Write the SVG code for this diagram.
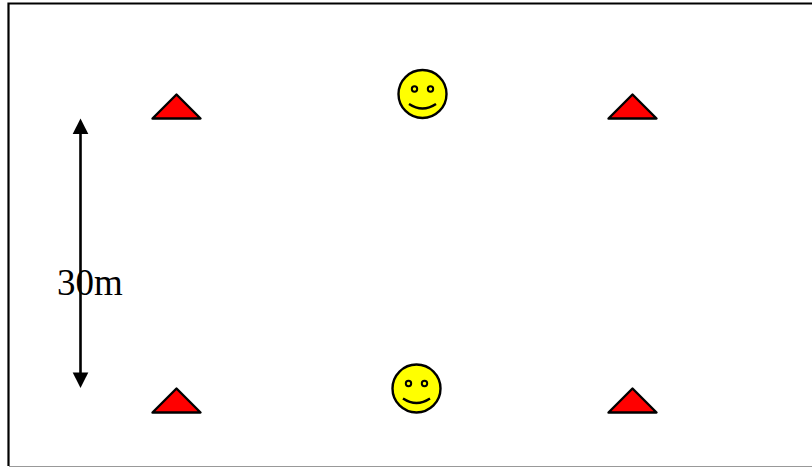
<svg xmlns="http://www.w3.org/2000/svg" width="812" height="467" viewBox="0 0 812 467">
<style>
.cone{fill:#ff0000;stroke:#000;stroke-width:2.4;stroke-linejoin:round}
.face{fill:#ffff00;stroke:#000;stroke-width:2.4}
.eye{fill:none;stroke:#000;stroke-width:2}
.smile{fill:none;stroke:#000;stroke-width:2.4}
.line{stroke:#000;stroke-width:2.6;fill:none}
.lbl{font-family:"Liberation Serif","Times New Roman",serif;font-size:37px;fill:#000}
</style>
<defs>
<polygon id="head" points="0,0 7.8,15.5 -7.8,15.5" fill="#000"/>
<polygon id="tri" class="cone" points="0,-24 24,0 -24,0"/>
<g id="smiley">
<circle class="face" r="24"/>
<circle class="eye" cx="-8" cy="-5" r="2.7"/>
<circle class="eye" cx="8" cy="-5" r="2.7"/>
<path class="smile" d="M-13.5,10 Q0,19 13.5,10"/>
</g>
</defs>
<rect width="812" height="467" fill="#fff"/>
<g id="frame">
<path d="M812,3.5H8.5V466" fill="none" stroke="#000" stroke-width="2.2"/>
<path d="M9,466.5H812" fill="none" stroke="#999" stroke-width="1"/>
</g>
<g id="connectors">
<line class="line" x1="80.5" y1="130" x2="80.5" y2="377"/>
<use href="#head" transform="translate(80.5,118.5)"/>
<use href="#head" transform="translate(80.5,388) scale(1,-1)"/>
</g>
<g id="cone-top-left"><use href="#tri" x="176.5" y="118.5"/></g>
<g id="cone-top-right"><use href="#tri" x="632.5" y="118.5"/></g>
<g id="cone-bottom-left"><use href="#tri" x="176.5" y="412.5"/></g>
<g id="cone-bottom-right"><use href="#tri" x="632.5" y="412.5"/></g>
<g id="smiley-top"><use href="#smiley" x="422.5" y="94"/></g>
<g id="smiley-bottom"><use href="#smiley" x="416.5" y="388.5"/></g>
<g id="label"><text class="lbl" x="57" y="295">30m</text></g>
</svg>
